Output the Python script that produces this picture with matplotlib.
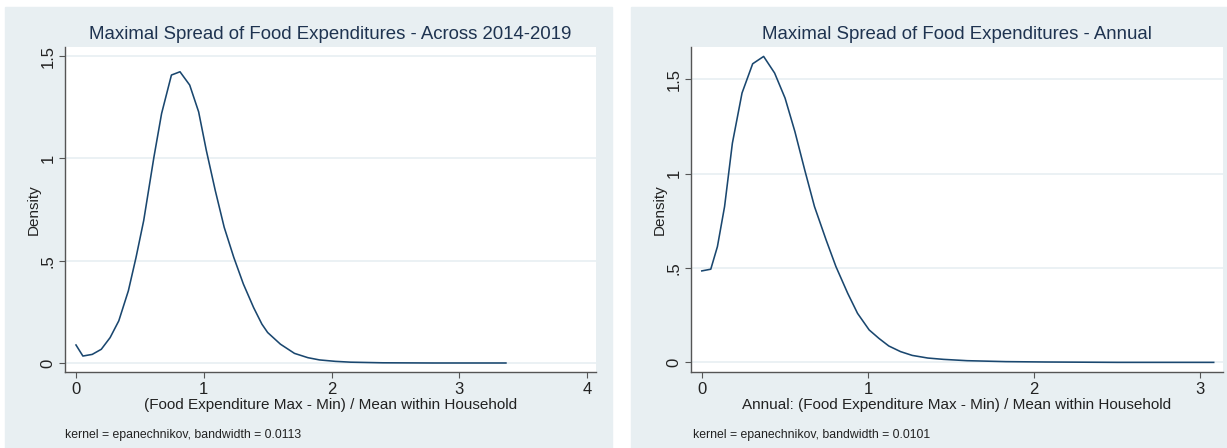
import numpy as np
import matplotlib.pyplot as plt
from matplotlib.patches import Rectangle

plt.rcParams['font.family'] = ['Liberation Sans', 'DejaVu Sans']

# kernel density estimates, read at the plotted knots
across_x = [0.0, 0.054, 0.127, 0.198, 0.267, 0.335, 0.41, 0.47, 0.53, 0.61, 0.67,
            0.747, 0.814, 0.89, 0.96, 1.02, 1.09, 1.16, 1.235, 1.31, 1.39, 1.455,
            1.50, 1.60, 1.71, 1.815, 1.906, 2.03, 2.15, 2.4, 2.8, 3.365]
across_y = [0.088, 0.034, 0.042, 0.067, 0.124, 0.206, 0.353, 0.516, 0.696, 1.006, 1.219,
            1.407, 1.423, 1.358, 1.227, 1.039, 0.843, 0.663, 0.516, 0.386, 0.271, 0.19,
            0.149, 0.092, 0.047, 0.026, 0.015, 0.008, 0.004, 0.001, 0.0, 0.0]

annual_x = [0.0, 0.054, 0.094, 0.137, 0.184, 0.242, 0.306, 0.372, 0.438, 0.501, 0.56,
            0.619, 0.678, 0.748, 0.807, 0.878, 0.937, 1.007, 1.066, 1.125, 1.196,
            1.266, 1.36, 1.454, 1.596, 1.83, 2.07, 2.5, 3.08]
annual_y = [0.485, 0.494, 0.614, 0.826, 1.162, 1.428, 1.583, 1.622, 1.534, 1.401, 1.224,
            1.021, 0.826, 0.649, 0.508, 0.366, 0.26, 0.172, 0.127, 0.087, 0.057,
            0.037, 0.023, 0.016, 0.009, 0.004, 0.002, 0.0, 0.0]

bg = '#e8eff2'
navy = '#1a476f'
W, H = 1227, 448

fig = plt.figure(figsize=(12.27, 4.48), dpi=100)
fig.patch.set_facecolor('white')

# two graph regions with a white gap between them
for x0, x1 in [(5, 612), (631, W)]:
    fig.add_artist(Rectangle((x0 / W, 0), (x1 - x0) / W, (H - 7) / H,
                             transform=fig.transFigure, color=bg, zorder=-10))

panels = [
    dict(x=across_x, y=across_y, left=65, right=596, xlim=(-0.086, 4.07), ylim=(-0.044, 1.544),
         xticks=[0, 1, 2, 3, 4], yticks=[0, 0.5, 1, 1.5],
         title='Maximal Spread of Food Expenditures - Across 2014-2019',
         xlabel='(Food Expenditure Max - Min) / Mean within Household',
         note='kernel = epanechnikov, bandwidth = 0.0113', note_x=65),
    dict(x=annual_x, y=annual_y, left=691, right=1223, xlim=(-0.065, 3.136), ylim=(-0.051, 1.672),
         xticks=[0, 1, 2, 3], yticks=[0, 0.5, 1, 1.5],
         title='Maximal Spread of Food Expenditures - Annual',
         xlabel='Annual: (Food Expenditure Max - Min) / Mean within Household',
         note='kernel = epanechnikov, bandwidth = 0.0101', note_x=693),
]

for p in panels:
    bottom, top = 372, 47
    ax = fig.add_axes([p['left'] / W, (H - bottom) / H,
                       (p['right'] - p['left']) / W, (bottom - top) / H])
    ax.set_facecolor('white')
    ax.plot(p['x'], p['y'], color=navy, lw=1.15)
    ax.set_xlim(*p['xlim'])
    ax.set_ylim(*p['ylim'])
    ax.set_xticks(p['xticks'])
    ax.set_xticklabels([str(t) for t in p['xticks']])
    ax.set_yticks(p['yticks'])
    ax.set_yticklabels(['0', '.5', '1', '1.5'], rotation=90, va='center')
    for t in p['yticks']:
        ax.axhline(t, color=bg, lw=1.2, zorder=0)
    for s in ['top', 'right']:
        ax.spines[s].set_visible(False)
    for s in ['left', 'bottom']:
        ax.spines[s].set_color('#555555')
        ax.spines[s].set_linewidth(1.0)
    ax.tick_params(direction='out', length=4, width=0.8, color='#555555',
                   labelsize=12, labelcolor='#222222', pad=3)
    ax.set_xlabel(p['xlabel'], fontsize=11, color='#222222', labelpad=1)
    ax.set_ylabel('Density', fontsize=11, color='#222222', labelpad=0)
    ax.set_title(p['title'], fontsize=13.4, color='#1e3350', pad=6)
    fig.text(p['note_x'] / W, 1 - 435 / H, p['note'], fontsize=8.8, color='#222222',
             va='center', ha='left')

fig.savefig('out.png', dpi=100, facecolor='white')
